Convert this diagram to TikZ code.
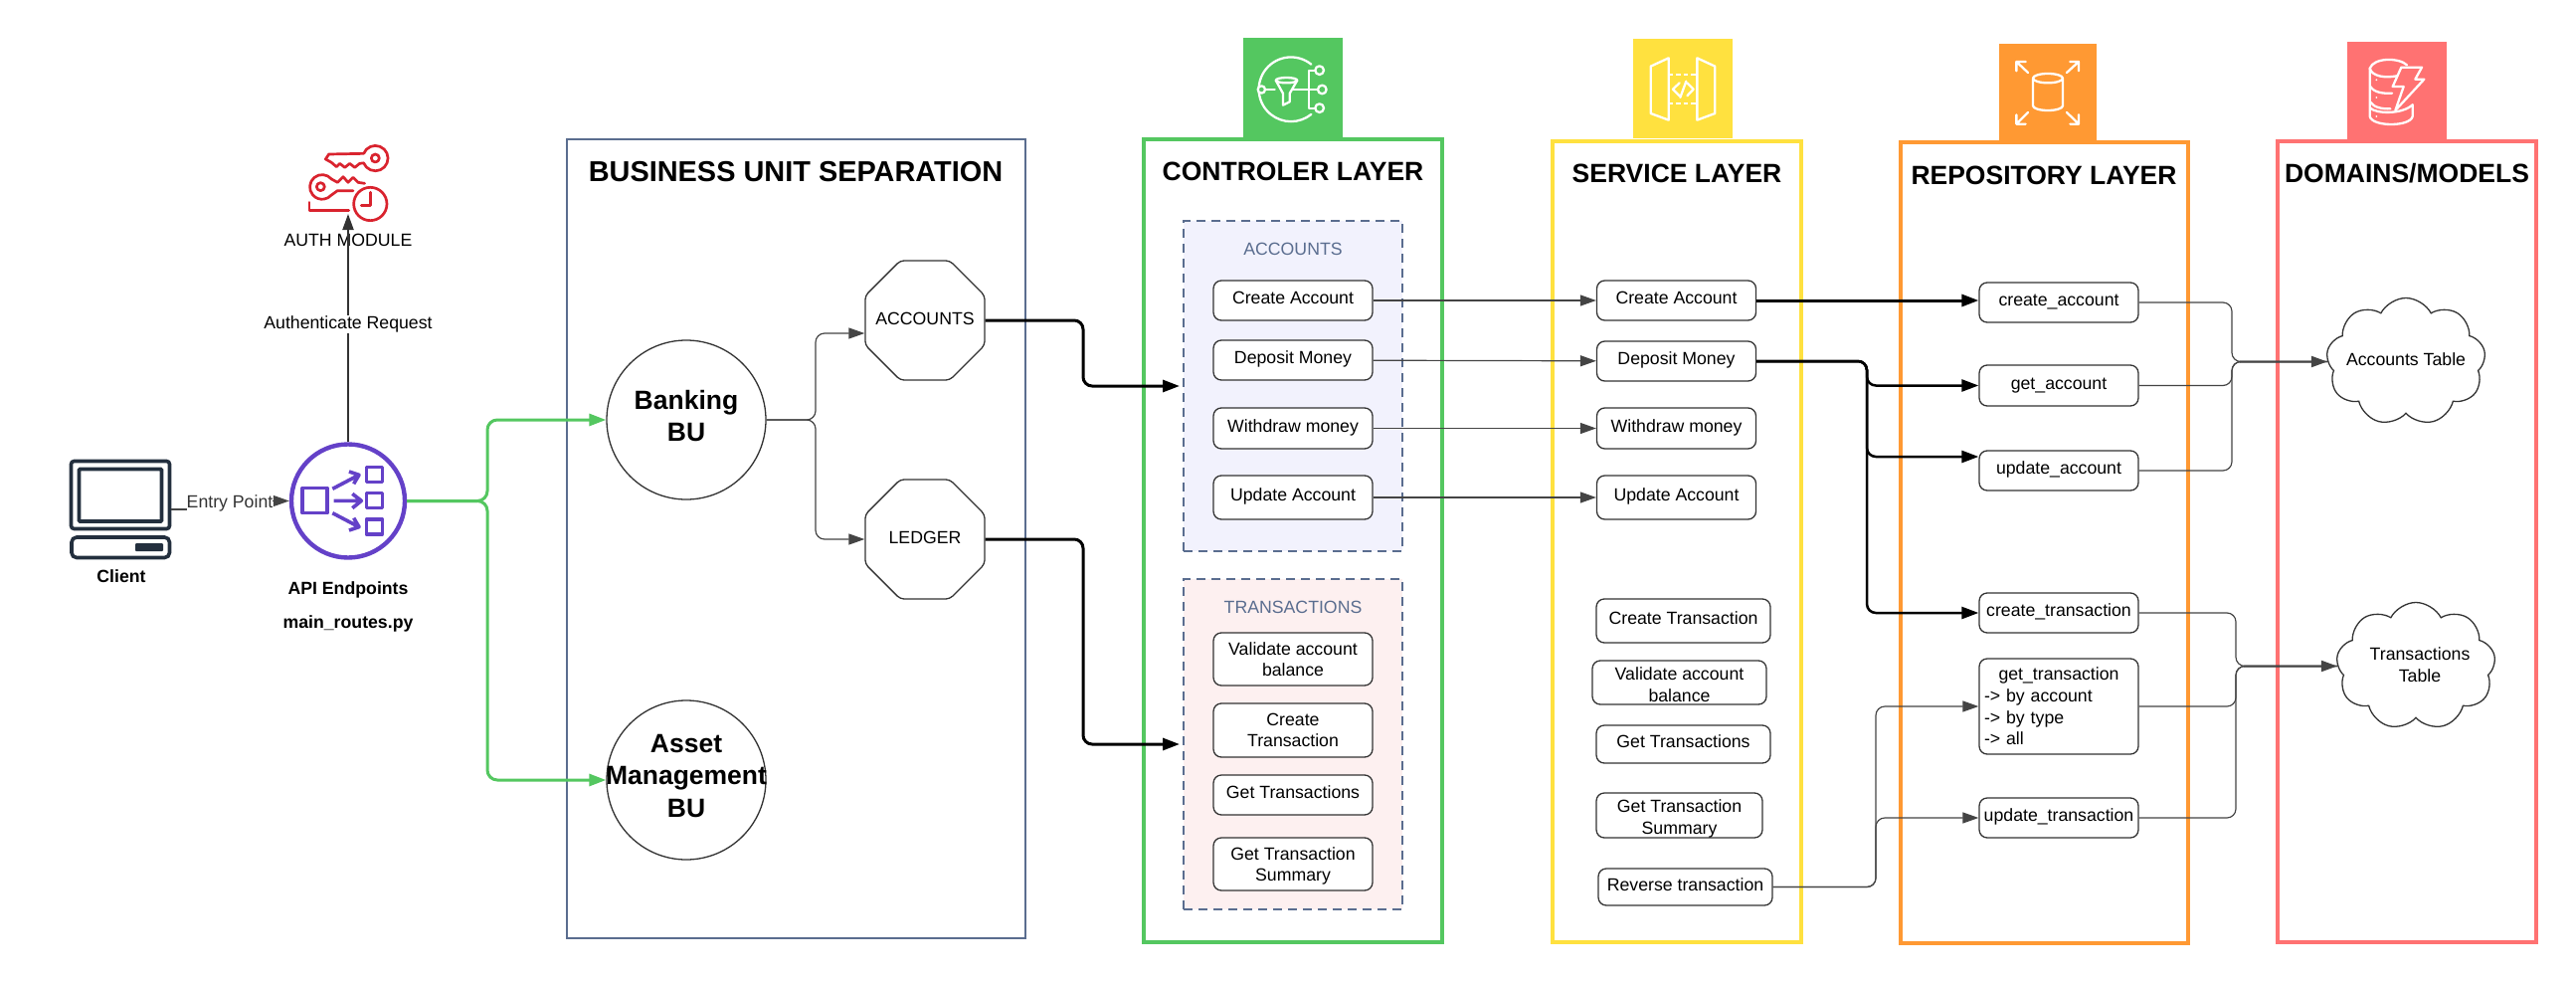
\documentclass[tikz,border=0pt]{standalone}
\usepackage{fontspec}
\setmainfont{Liberation Sans}
\usetikzlibrary{arrows.meta,shapes.geometric,shapes.symbols}
\definecolor{slategray}{HTML}{5A6D8F}
\definecolor{ctrlgreen}{HTML}{54C760}
\definecolor{svcyellow}{HTML}{FFE13F}
\definecolor{repoorange}{HTML}{FF9933}
\definecolor{modelred}{HTML}{FF7272}
\definecolor{acctfill}{HTML}{F2F2FD}
\definecolor{trnfill}{HTML}{FDF0F0}
\definecolor{authred}{HTML}{D9232E}
\definecolor{apipurple}{HTML}{6441C8}
\definecolor{clientnavy}{HTML}{232F3E}
\definecolor{linegray}{HTML}{444444}
\newcommand{\txtfont}{\fontsize{17.7}{21.6}\selectfont}
\newcommand{\headfont}{\fontsize{26.5}{32}\selectfont\bfseries}
\tikzset{
	panel/.style={draw,line width=4,minimum width=#1,inner sep=0},
	grouparea/.style={draw=slategray,line width=2,dash pattern=on 9pt off 6pt,minimum width=220,inner sep=0},
	headline/.style={font=\headfont,inner sep=0},
	grouptitle/.style={font=\txtfont,text=slategray,inner sep=0},
	opbox/.style={draw=black!80,line width=1.3,fill=white,rounded corners=8,minimum width=#1,font=\txtfont,inner sep=0,align=center},
	opbox/.default=160,
	oneline/.style={text height=13,text depth=6},
	sunktext/.style={text height=38,text depth=0},
	buunit/.style={circle,draw=black!80,line width=1.3,fill=white,minimum size=160,inner sep=0},
	buname/.style={font=\fontsize{26.5}{32.5}\selectfont\bfseries,align=center,inner sep=0},
	routebox/.style={regular polygon,regular polygon sides=8,minimum size=130,draw=black!80,line width=1.3,fill=white,rounded corners=4,inner sep=0},
	routename/.style={font=\txtfont,inner sep=0},
	tablecloud/.style={cloud,cloud puffs=9,cloud puff arc=125,aspect=1.25,minimum width=160,minimum height=128,draw=black!80,line width=1.3,fill=white,inner sep=0},
	tablename/.style={font=\txtfont,inner sep=0,align=center},
	thinlink/.style={draw=linegray,line width=1.2,rounded corners=9,-{Triangle[length=16,width=11]}},
	thicklink/.style={draw=black,line width=3,rounded corners=9,-{Triangle[length=17,width=12]}},
	joinlink/.style={draw=linegray,line width=1.2,rounded corners=9},
	greenlink/.style={draw=ctrlgreen,line width=3,rounded corners=10,-{Triangle[length=17,width=12]}},
	iconline/.style={draw=white,line width=2.3,line cap=round,line join=round},
	authline/.style={draw=authred,line width=2.7,line cap=round,line join=round},
	apiline/.style={draw=apipurple,line width=3.6,line join=round},
}
\begin{document}
\begin{tikzpicture}[x=1pt,y=-1pt]
	\useasboundingbox (0,0) rectangle (2590,987);
	\node[panel=461,draw=slategray,line width=2.5,minimum height=803] (buarea) at (800.5,541.5) {};
	\node[panel=300,draw=ctrlgreen,minimum height=807] (ctrlarea) at (1300,543.5) {};
	\node[panel=250,draw=svcyellow,minimum height=805] (svcarea) at (1685.5,544.5) {};
	\node[panel=289.5,draw=repoorange,minimum height=805] (repoarea) at (2055.25,545.5) {};
	\node[panel=260,draw=modelred,minimum height=805] (modelarea) at (2420,544.5) {};
	\node[headline,font=\fontsize{28.9}{32}\selectfont\bfseries] (butitle) at (800,173) {BUSINESS UNIT SEPARATION};
	\node[headline] (ctrltitle) at (1300,172) {CONTROLER LAYER};
	\node[headline] (svctitle) at (1686,174) {SERVICE LAYER};
	\node[headline] (repotitle) at (2055,176) {REPOSITORY LAYER};
	\node[headline] (modeltitle) at (2420,174) {DOMAINS/MODELS};

	\node[fill=ctrlgreen,minimum size=100,inner sep=0] (ctrlicon) at (1300,88.5) {};
	\begin{scope}[shift={(1245,34)},x=0.3333pt,y=-0.3333pt]
		\draw[iconline] (220,92) arc[radius=97,start angle=-51,end angle=-309];
		\draw[iconline,fill=ctrlgreen] (70,168) circle[radius=11];
		\draw[iconline] (82,168) -- (110,168) (165,168) -- (240,168) (232,112) -- (213,112) -- (213,224) -- (232,224);
		\foreach \iy/\ix in {110/245,168/253,224/245} {
			\draw[iconline,fill=ctrlgreen] (\ix,\iy) circle[radius=13];
		}
		\draw[iconline] (113,140) -- (135,180) -- (135,215) -- (155,205) -- (155,180) -- (178,140);
		\draw[iconline] (145.5,140) ellipse[x radius=32,y radius=8];
	\end{scope}

	\node[fill=svcyellow,minimum size=100,inner sep=0] (svcicon) at (1692,89) {};
	\begin{scope}[shift={(1637,34)},x=0.3333pt,y=-0.3333pt]
		\draw[iconline] (68,98) -- (122,73) -- (122,260) -- (68,240) -- cycle;
		\draw[iconline] (208,73) -- (262,98) -- (262,240) -- (208,260) -- cycle;
		\draw[iconline,line cap=butt,dash pattern=on 4.5pt off 3pt] (122,122) -- (208,122) (122,210) -- (208,210);
		\draw[iconline] (155,148) -- (135,167) -- (155,187) (178,148) -- (197,167) -- (178,187) (175,143) -- (157,192);
	\end{scope}

	\node[fill=repoorange,minimum width=98,minimum height=98,inner sep=0] (repoicon) at (2059,93) {};
	\begin{scope}[shift={(2004,38)},x=0.3333pt,y=-0.3333pt]
		\draw[iconline] (165,122) ellipse[x radius=45,y radius=14];
		\draw[iconline] (120,122) -- (120,205) arc[x radius=45,y radius=14,start angle=180,end angle=0] -- (210,122);
		\draw[iconline] (105,105) -- (70,72) (70,100) -- (70,72) -- (98,72);
		\draw[iconline] (222,105) -- (258,72) (232,72) -- (258,72) -- (258,100);
		\draw[iconline] (105,225) -- (70,260) (70,232) -- (70,260) -- (98,260);
		\draw[iconline] (222,225) -- (258,260) (258,232) -- (258,260) -- (232,260);
	\end{scope}

	\node[fill=modelred,minimum size=100,inner sep=0] (modelicon) at (2410,92) {};
	\begin{scope}[shift={(2355,37)},x=0.3333pt,y=-0.3333pt]
		\draw[iconline] (195,85) .. controls (170,62) and (95,62) .. (83,95) -- (83,240) .. controls (90,272) and (205,272) .. (212,240) -- (212,205);
		\draw[iconline] (83,95) .. controls (90,120) and (130,125) .. (165,118);
		\draw[iconline] (85,150) .. controls (95,168) and (125,172) .. (150,170);
		\draw[iconline] (85,197) .. controls (95,213) and (120,218) .. (145,217);
		\draw[iconline] (85,215) .. controls (100,232) and (180,235) .. (212,205);
		\fill[color=white] (103,130) circle[radius=3] (103,183) circle[radius=3] (103,240) circle[radius=3];
		\draw[iconline,fill=modelred] (178,92) -- (240,92) -- (220,128) -- (247,128) -- (160,222) -- (185,150) -- (152,150) -- cycle;
	\end{scope}

	\node[grouparea,fill=acctfill,minimum height=332] (acctgroup) at (1300,388) {};
	\node[grouparea,fill=trnfill,minimum height=332] (trngroup) at (1300,748) {};
	\node[grouptitle] (accttitle) at (1300,250) {ACCOUNTS};
	\node[grouptitle] (trntitle) at (1300,610) {TRANSACTIONS};

	\node[opbox,oneline,minimum height=40] (ctrlcreate) at (1300,302) {Create Account};
	\node[opbox,oneline,minimum height=40] (ctrldeposit) at (1300,362) {Deposit Money};
	\node[opbox,oneline,minimum height=41] (ctrlwithdraw) at (1300,430.5) {Withdraw money};
	\node[opbox,oneline,minimum height=44] (ctrlupdate) at (1300,500) {Update Account};
	\node[opbox,minimum height=53] (ctrlvalidate) at (1300,662.5) {Validate account\\balance};
	\node[opbox,minimum height=54] (ctrltrn) at (1300,734) {Create\\Transaction};
	\node[opbox,oneline,minimum height=40] (ctrlgettrn) at (1300,799) {Get Transactions};
	\node[opbox,text depth=0,minimum height=53] (ctrlsummary) at (1300,868.5) {Get Transaction\\Summary};

	\node[opbox,oneline,minimum height=40] (svccreate) at (1685.5,302) {Create Account};
	\node[opbox,oneline,minimum height=40] (svcdeposit) at (1685.5,363) {Deposit Money};
	\node[opbox,oneline,minimum height=41] (svcwithdraw) at (1685.5,430.5) {Withdraw money};
	\node[opbox,oneline,minimum height=44] (svcupdate) at (1685.5,500) {Update Account};
	\node[opbox=175,oneline,minimum height=44] (svctrn) at (1692.5,624) {Create Transaction};
	\node[opbox=175,sunktext,minimum height=44] (svcvalidate) at (1688.5,686) {Validate account\\balance};
	\node[opbox=175,oneline,minimum height=38] (svcgettrn) at (1692.5,748) {Get Transactions};
	\node[opbox=167,sunktext,minimum height=45] (svcsummary) at (1688.5,819.5) {Get Transaction\\Summary};
	\node[opbox=175,oneline,minimum height=37] (svcreverse) at (1694.5,891.5) {Reverse transaction};

	\node[opbox,oneline,minimum height=40] (repocreate) at (2070,304) {create\_account};
	\node[opbox,oneline,minimum height=41] (repoget) at (2070,387.5) {get\_account};
	\node[opbox,oneline,minimum height=40] (repoupdate) at (2070,473) {update\_account};
	\node[opbox,oneline,minimum height=40] (repotrn) at (2070,616) {create\_transaction};
	\node[opbox,minimum height=96,text width=150,align=left] (repogettrn) at (2070,710) {\makebox[150pt]{get\_transaction}\\-> by account\\-> by type\\-> all};
	\node[opbox,oneline,minimum height=40] (repoupdtrn) at (2070,822) {update\_transaction};

	\node[tablecloud] (acctcloud) at (2419,363.5) {};
	\node[tablename] (acctcloudname) at (2419,361) {Accounts Table};
	\node[tablecloud] (trncloud) at (2429,669.5) {};
	\node[tablename] (trncloudname) at (2433,668) {Transactions\\Table};

	\node[buunit] (banking) at (690,422) {};
	\node[buname] (bankinglabel) at (690,418) {Banking\\BU};
	\node[buunit] (asset) at (690,784) {};
	\node[buname] (assetlabel) at (690,780) {Asset\\Management\\BU};
	\node[routebox] (acctroute) at (930,322) {};
	\node[routename] (acctroutename) at (930,320) {ACCOUNTS};
	\node[routebox] (ledgerroute) at (930,542) {};
	\node[routename] (ledgerroutename) at (930,540) {LEDGER};

	\node[draw=clientnavy,line width=3.6,rounded corners=3,minimum width=99,minimum height=68,inner sep=0] (client) at (121,497.5) {};
	\draw[draw=clientnavy,line width=3.6,rounded corners=1] (79.5,471.5) rectangle (162.5,524);
	\draw[draw=clientnavy,line width=3.6,rounded corners=5] (72,540) rectangle (170.5,560.5);
	\fill[color=clientnavy,rounded corners=1] (136,546) rectangle (164,554);
	\node[font=\txtfont\bfseries,inner sep=0] (clientlabel) at (122,579) {Client};

	\node[circle,draw=apipurple,line width=4.4,minimum size=114,inner sep=0] (api) at (350,503.5) {};
	\begin{scope}[shift={(285,438)},x=0.3333pt,y=-0.3333pt]
		\draw[apiline] (57,158) rectangle (132,233);
		\draw[apiline] (250,95) rectangle (298,140) (250,173) rectangle (298,218) (250,252) rectangle (298,297);
		\draw[apiline] (148,160) -- (228,118) (198,108) -- (228,118) -- (212,145);
		\draw[apiline] (152,196) -- (235,196) (208,175) -- (235,196) -- (208,218);
		\draw[apiline] (148,233) -- (228,275) (212,248) -- (228,275) -- (198,285);
	\end{scope}
	\node[font=\txtfont\bfseries,inner sep=0] (apilabel) at (350,593) {API Endpoints};
	\node[font=\txtfont\bfseries,inner sep=0] (apifile) at (350,627) {main\_routes.py};

	\begin{scope}[shift={(300,135)},x=0.3333pt,y=-0.3333pt]
		\draw[authline] (197,58) arc[radius=38,start angle=-158,end angle=158] -- (185,88) -- (170,100) -- (155,88) -- (140,100) -- (125,88) -- (115,98) -- (100,85) -- (82,75) -- (92,60) -- (197,58);
		\draw[authline] (232,72) circle[radius=12];
		\draw[authline] (100,135) arc[radius=37,start angle=-40,end angle=-318] -- (118,170) -- (165,170);
		\draw[authline] (100,135) -- (118,145) -- (135,128) -- (150,145) -- (165,130) -- (180,145) -- (200,148);
		\draw[authline] (67,158) circle[radius=12];
		\draw[authline] (217,210) circle[radius=50];
		\draw[authline] (217,175) -- (217,215) -- (190,215);
		\draw[authline] (33,205) -- (33,230) -- (152,230);
	\end{scope}
	\coordinate (authport) at (350,215);
	\node[font=\txtfont,inner sep=0] (authlabel) at (350,241) {AUTH MODULE};

	\coordinate (clientbend) at (205,503.5);
	\draw[thinlink,rounded corners=0] ([yshift=-14.5]client.east) -| (clientbend) -- (api.west);
	\node[fill=white,font=\txtfont,text=black!80,inner sep=0] (entrylabel) at (231,506) {Entry Point};
	\draw[thinlink,draw=black!80,line width=2] (api.north) -- (authport);
	\node[fill=white,font=\txtfont,inner sep=1pt] (reqlabel) at (350,326) {Authenticate Request};

	\coordinate (apifork) at (490,503.5);
	\draw[greenlink] (api.east) -- (apifork) |- (banking.west);
	\draw[greenlink] (api.east) -- (apifork) |- (asset.west);

	\coordinate (bufork) at (820,422);
	\draw[thinlink] (banking.east) -- (bufork) |- ([yshift=-13]acctroute.west);
	\draw[thinlink] (banking.east) -- (bufork) |- (ledgerroute.west);

	\coordinate (acctbend) at (1089,322);
	\coordinate (ledgerbend) at (1089,542);
	\draw[thicklink] (acctroute.east) -- (acctbend) |- ([xshift=-3]acctgroup.west);
	\draw[thicklink] (ledgerroute.east) -- (ledgerbend) |- ([xshift=-3]trngroup.west);

	\draw[thinlink] (ctrlcreate) -- (svccreate);
	\draw[thinlink] (ctrldeposit) -- (svcdeposit);
	\draw[thinlink] (ctrlwithdraw) -- (svcwithdraw);
	\draw[thinlink] (ctrlupdate) -- (svcupdate);

	\draw[thicklink] (svccreate.east) -- (svccreate.east -| repocreate.west) ;
	\coordinate (depfork) at (1877,363);
	\draw[thicklink,line width=2.5] (svcdeposit.east) -- (depfork) |- (repoget.west);
	\draw[thicklink,line width=2.5] (svcdeposit.east) -- (depfork) |- ([yshift=14]repoupdate.west);
	\draw[thicklink,line width=2.5] (svcdeposit.east) -- (depfork) |- (repotrn.west);

	\coordinate (revfork) at (1886,891.5);
	\draw[thinlink] (svcreverse.east) -- (revfork) |- (repogettrn.west);
	\draw[thinlink] (svcreverse.east) -- (revfork) |- (repoupdtrn.west);

	\coordinate (acctjoin) at (2244,363.5);
	\coordinate (trnjoin) at (2248,669.5);
	\foreach \srcname in {repocreate,repoget,repoupdate} {
		\draw[joinlink] (\srcname.east) -| (acctjoin) -- (acctcloud.west);
	}
	\foreach \srcname in {repotrn,repogettrn,repoupdtrn} {
		\draw[joinlink] (\srcname.east) -| (trnjoin) -- (trncloud.west);
	}
	\draw[thinlink,line width=2] (acctjoin) ++(8,0) -- (acctcloud.west);
	\draw[thinlink,line width=2] (trnjoin) ++(8,0) -- (trncloud.west);
\end{tikzpicture}
\end{document}
